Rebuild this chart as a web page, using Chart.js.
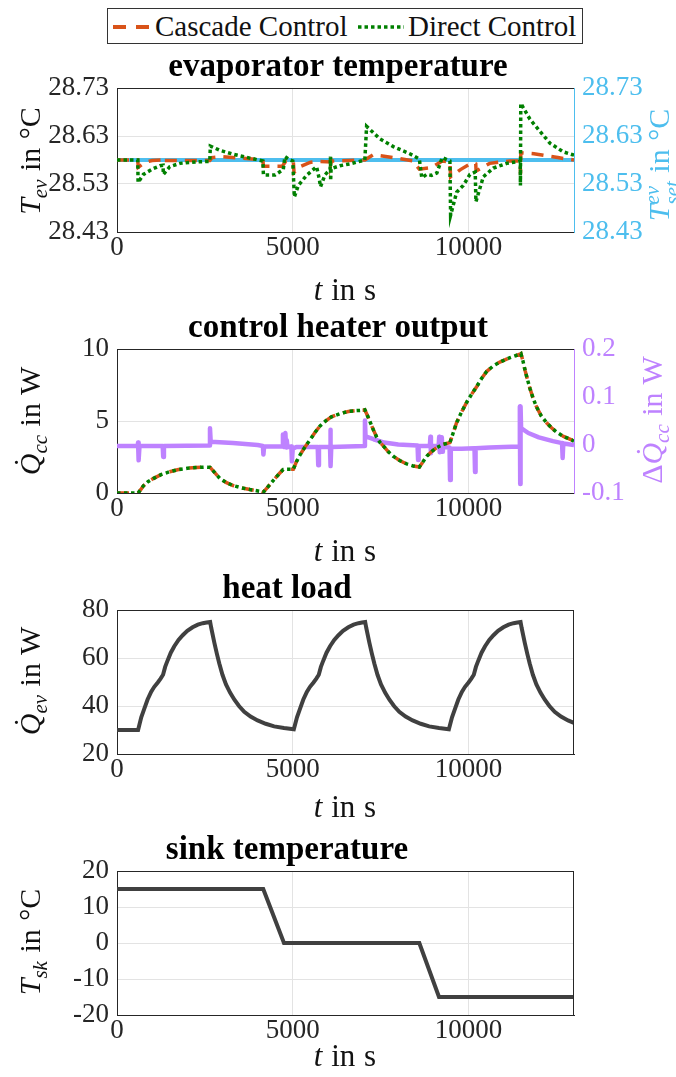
<!DOCTYPE html>
<html>
<head>
<meta charset="utf-8">
<script src="https://cdn.jsdelivr.net/npm/chart.js@4.4.1/dist/chart.umd.min.js"></script>
<style>
  body { margin: 0; width: 676px; height: 1077px; overflow: hidden; background: #fff; position: relative;
         font-family: "Liberation Serif", serif; color: #111; }
  canvas { position: absolute; left: 0; }
  .ylab { position: absolute; white-space: nowrap; font-size: 30px; line-height: 1; word-spacing: 1px;
          transform: translate(-50%, -50%) rotate(-90deg); }
  .xlab { position: absolute; white-space: nowrap; font-size: 31px; line-height: 1; word-spacing: 1px;
          transform: translate(-50%, -50%); }
  .ylab sub { font-size: 70%; vertical-align: -0.3em; font-style: italic; }
  .ss { display: inline-block; font-size: 70%; line-height: 0.95; vertical-align: -0.5em; font-style: italic; word-spacing: 0; }
  .ss span { display: block; }
  #legend { position: absolute; left: 107px; top: 8px; width: 474px; height: 34px; border: 1px solid #333; background: #fff; }
  #legend span { position: absolute; top: 3px; font-size: 29px; line-height: 1; white-space: nowrap; }
  #legend svg { position: absolute; top: 0; left: 0; }
</style>
</head>
<body>
<div id="legend">
  <svg width="474" height="34">
    <line x1="5" y1="18" x2="43" y2="18" stroke="rgb(217,83,25)" stroke-width="4" stroke-dasharray="13 10"/>
    <line x1="250" y1="18" x2="296" y2="18" stroke="rgb(0,128,0)" stroke-width="3.5" stroke-dasharray="3.5 3"/>
  </svg>
  <span style="left:47px">Cascade Control</span>
  <span style="left:300px">Direct Control</span>
</div>

<canvas id="c1" width="676" height="254" style="top:40px"></canvas>
<canvas id="c2" width="676" height="254" style="top:301px"></canvas>
<canvas id="c3" width="676" height="254" style="top:562px"></canvas>
<canvas id="c4" width="676" height="254" style="top:823px"></canvas>

<div class="ylab" style="left:33px;top:161px"><i>T</i><sub>ev</sub> in °C</div>
<div class="ylab" style="left:663px;top:165px;color:rgb(77,190,238)"><i>T</i><span class="ss"><span>ev</span><span>set</span></span> in °C</div>
<div class="xlab" style="left:345px;top:289px"><i>t</i> in s</div>

<div class="ylab" style="left:33px;top:421px"><i>Q&#x307;</i><sub>cc</sub> in W</div>
<div class="ylab" style="left:655px;top:420px;color:rgb(190,130,255)">Δ<i>Q&#x307;</i><sub>cc</sub> in W</div>
<div class="xlab" style="left:345px;top:550px"><i>t</i> in s</div>

<div class="ylab" style="left:33px;top:681px"><i>Q&#x307;</i><sub>ev</sub> in W</div>
<div class="xlab" style="left:345px;top:806px"><i>t</i> in s</div>

<div class="ylab" style="left:33px;top:942px"><i>T</i><sub>sk</sub> in °C</div>
<div class="xlab" style="left:345px;top:1055px"><i>t</i> in s</div>

<script>
// axis ticks
const timeTicks = [0, 5000, 10000];
const evapTicks = [28.43, 28.53, 28.63, 28.73];
const heaterTicks = [0, 5, 10];
const deltaTicks = [-0.1, 0, 0.1, 0.2];
const loadTicks = [20, 40, 60, 80];
const sinkTicks = [-20, -10, 0, 10, 20];

// evaporator temperature [t in s, T in °C]
const setpointT = [[0, 28.58], [13000, 28.58]];
const cascadeT = [
  [0, 28.58], [590, 28.58], [605, 28.565], [800, 28.575], [1000, 28.579], [1310, 28.58], [1318, 28.584],
  [1330, 28.579], [2640, 28.579], [2700, 28.585], [3000, 28.587], [3500, 28.584], [4150, 28.58],
  [4165, 28.567], [4700, 28.567], [4780, 28.575], [4800, 28.578], [5015, 28.578], [5035, 28.554],
  [5200, 28.566], [5490, 28.575], [5720, 28.577], [6070, 28.576], [6075, 28.591], [6080, 28.572],
  [6100, 28.578], [7050, 28.58], [7290, 28.591], [7860, 28.585], [8430, 28.578], [8523, 28.568],
  [8600, 28.561], [8950, 28.564], [9250, 28.578], [9470, 28.576], [9490, 28.545], [9770, 28.56],
  [10120, 28.575], [10205, 28.572], [10215, 28.557], [10600, 28.573], [11170, 28.578], [11470, 28.578],
  [11478, 28.55], [11486, 28.595], [11860, 28.593], [12540, 28.585], [13000, 28.58]
];
const directT = [
  [0, 28.58], [590, 28.58], [600, 28.533], [750, 28.55], [1030, 28.562], [1220, 28.568], [1310, 28.569],
  [1318, 28.55], [1500, 28.566], [1790, 28.573], [2270, 28.576], [2640, 28.577], [2655, 28.609],
  [2930, 28.60], [3310, 28.592], [3780, 28.584], [4150, 28.578], [4165, 28.549], [4500, 28.549],
  [4730, 28.56], [4777, 28.587], [4920, 28.58], [5000, 28.578], [5045, 28.503], [5157, 28.527],
  [5393, 28.548], [5678, 28.566], [5750, 28.542], [5790, 28.524], [5915, 28.549], [6061, 28.56],
  [6073, 28.587], [6077, 28.537], [6090, 28.562], [6342, 28.568], [6626, 28.572], [7050, 28.58],
  [7100, 28.65], [7480, 28.624], [7860, 28.608], [8330, 28.593], [8600, 28.582], [8670, 28.543],
  [8810, 28.55], [8950, 28.548], [9100, 28.553], [9250, 28.585], [9410, 28.58], [9470, 28.578],
  [9490, 28.465], [9662, 28.513], [9851, 28.527], [10040, 28.55], [10190, 28.555], [10210, 28.493],
  [10420, 28.545], [10704, 28.563], [11083, 28.573], [11415, 28.577], [11470, 28.578], [11476, 28.527],
  [11486, 28.698], [11747, 28.665], [12031, 28.64], [12316, 28.615], [12695, 28.597], [13000, 28.59]
];

// control heater output [t in s, W]; both controllers give the same curve here
const cascadeQ = [
  [0, 0], [600, 0], [680, 0.25], [750, 0.5], [880, 0.78], [1030, 1.0], [1250, 1.27], [1500, 1.48],
  [1750, 1.63], [2000, 1.72], [2250, 1.77], [2500, 1.8], [2650, 1.78], [2780, 1.42], [2930, 1.0],
  [3100, 0.74], [3300, 0.52], [3540, 0.36], [3780, 0.24], [4110, 0.1], [4160, 0.05], [4300, 0.45],
  [4450, 0.88], [4600, 1.3], [4730, 1.64], [5015, 1.65], [5100, 2.15], [5200, 2.62], [5340, 3.17],
  [5490, 3.69], [5630, 4.2], [5770, 4.64], [5930, 5.0], [6100, 5.29], [6330, 5.5], [6580, 5.66],
  [6800, 5.72], [7000, 5.75], [7050, 5.78], [7120, 5.4], [7200, 4.93], [7290, 4.4], [7390, 3.86],
  [7480, 3.52], [7580, 3.26], [7720, 2.86], [7860, 2.55], [8040, 2.26], [8240, 2.02], [8420, 1.88],
  [8600, 1.8], [8700, 2.15], [8810, 2.55], [8950, 2.88], [9090, 3.14], [9280, 3.38], [9470, 3.5],
  [9560, 4.15], [9660, 4.88], [9800, 5.62], [9950, 6.31], [10090, 6.87], [10230, 7.38], [10370, 7.95],
  [10520, 8.45], [10700, 8.82], [10890, 9.09], [11180, 9.4], [11460, 9.64], [11490, 9.68], [11550, 9.15],
  [11610, 8.5], [11680, 7.85], [11750, 7.24], [11840, 6.55], [11940, 5.95], [12070, 5.35], [12220, 4.88],
  [12360, 4.53], [12500, 4.24], [12700, 3.93], [12930, 3.69], [13000, 3.6]
];
const directQ = cascadeQ;
const deltaQ = [
  [0, -0.002], [590, -0.002], [600, 0.005], [615, -0.032], [640, -0.002], [1300, -0.002], [1315, -0.025],
  [1335, -0.002], [2630, -0.001], [2645, 0.035], [2665, 0.007], [3300, 0.004], [4000, 0.0],
  [4150, -0.002], [4165, -0.02], [4185, -0.003], [4700, -0.003], [4720, 0.022], [4740, -0.004],
  [4790, 0.025], [4810, -0.005], [4830, 0.01], [4850, -0.004], [4960, -0.003], [4975, -0.034],
  [5000, -0.008], [5100, -0.004], [5710, -0.004], [5725, -0.042], [5745, -0.004], [6060, -0.004],
  [6070, 0.032], [6080, -0.044], [6095, -0.004], [7040, -0.002], [7053, 0.051], [7070, 0.018],
  [7300, 0.012], [7600, 0.005], [8000, 0.001], [8550, -0.001], [8565, -0.031], [8580, -0.002],
  [8900, -0.002], [8915, 0.017], [8930, -0.017], [8945, -0.002], [9150, -0.002], [9165, 0.017],
  [9180, -0.015], [9200, -0.003], [9240, 0.016], [9255, -0.014], [9270, -0.004], [9460, -0.005],
  [9475, -0.073], [9495, -0.008], [9800, -0.008], [10170, -0.007], [10185, -0.056], [10200, -0.007],
  [10600, -0.005], [11000, -0.004], [11450, -0.003], [11460, 0.08], [11470, -0.081], [11480, 0.08],
  [11495, 0.035], [11700, 0.025], [12000, 0.016], [12400, 0.008], [12660, 0.004], [12677, -0.027],
  [12695, 0.003], [13000, 0.0]
];

// heat load [t in s, W]
const heatLoad = [
  [0, 30], [600, 30], [690, 35.3], [780, 39], [870, 42.7], [970, 45.9], [1060, 48], [1160, 49.8],
  [1240, 51.4], [1310, 53], [1370, 56.3], [1440, 59], [1530, 62.2], [1630, 64.9], [1750, 67.5],
  [1870, 69.5], [2000, 71.3], [2150, 72.8], [2300, 73.9], [2440, 74.5], [2550, 74.8], [2650, 75],
  [2680, 72.6], [2770, 66.3], [2840, 61.8], [2910, 57.7], [3000, 53], [3100, 49], [3220, 45.5],
  [3340, 42.6], [3470, 40], [3620, 37.6], [3800, 35.6], [4000, 34], [4230, 32.6], [4470, 31.5],
  [4750, 30.8], [5030, 30.3],
  [5120, 35.3], [5210, 39], [5300, 42.7], [5400, 45.9], [5490, 48], [5590, 49.8], [5670, 51.4],
  [5740, 53], [5800, 56.3], [5870, 59], [5960, 62.2], [6060, 64.9], [6180, 67.5], [6300, 69.5],
  [6430, 71.3], [6580, 72.8], [6730, 73.9], [6870, 74.5], [6970, 74.8], [7060, 75],
  [7090, 72.6], [7180, 66.3], [7250, 61.8], [7320, 57.7], [7410, 53], [7510, 49], [7630, 45.5],
  [7750, 42.6], [7880, 40], [8030, 37.6], [8210, 35.6], [8410, 34], [8640, 32.6], [8880, 31.5],
  [9160, 30.8], [9440, 30.3],
  [9530, 35.3], [9620, 39], [9710, 42.7], [9810, 45.9], [9900, 48], [10000, 49.8], [10080, 51.4],
  [10150, 53], [10210, 56.3], [10280, 59], [10370, 62.2], [10470, 64.9], [10590, 67.5], [10710, 69.5],
  [10840, 71.3], [10990, 72.8], [11140, 73.9], [11280, 74.5], [11390, 74.8], [11480, 75],
  [11510, 72.6], [11600, 66.3], [11670, 61.8], [11740, 57.7], [11830, 53], [11930, 49], [12050, 45.5],
  [12170, 42.6], [12300, 40], [12450, 37.6], [12630, 35.6], [12830, 34], [13000, 32.9]
];

// sink temperature [t in s, °C]
const sinkTemp = [[0, 15], [4160, 15], [4750, 0], [8600, 0], [9160, -15], [13000, -15]];

const ORANGE = 'rgb(217,83,25)';
const GREEN = 'rgb(0,128,0)';
const BLUE = 'rgb(77,190,238)';
const PURPLE = 'rgb(190,130,255)';
const DARK = 'rgb(64,64,64)';
const AXIS = '#262626';
const GRID = '#e3e3e3';
const tickFont = { family: 'Liberation Serif', size: 27 };

const pts = arr => arr.map(([x, y]) => ({ x, y }));

const framePlugin = {
  id: 'frame',
  afterDraw(chart, args, opts) {
    const { ctx, chartArea: a } = chart;
    ctx.save();
    ctx.strokeStyle = AXIS;
    ctx.lineWidth = 1;
    ctx.beginPath();
    ctx.moveTo(a.left, Math.round(a.top) + 0.5);
    ctx.lineTo(a.right, Math.round(a.top) + 0.5);
    if (opts.right) {
      ctx.moveTo(Math.round(a.right) - 0.5, a.top);
      ctx.lineTo(Math.round(a.right) - 0.5, a.bottom);
    }
    ctx.stroke();
    ctx.restore();
  }
};

function yAxis(ticks, min, max, color, position, width, fmt, grid) {
  return {
    type: 'linear', position, min, max,
    afterBuildTicks: s => { s.ticks = ticks.map(v => ({ value: v })); },
    afterFit: s => { s.width = width; },
    ticks: { color, font: tickFont, padding: 8, callback: fmt },
    grid: { drawOnChartArea: grid, color: GRID, tickLength: 0 },
    border: { color, width: 1 }
  };
}

function xAxis() {
  return {
    type: 'linear', min: 0, max: 13000,
    afterBuildTicks: s => { s.ticks = timeTicks.map(v => ({ value: v })); },
    afterFit: s => { s.height = 62; },
    ticks: { color: AXIS, font: tickFont, padding: 0, maxRotation: 0, callback: v => String(v) },
    grid: { color: GRID, tickLength: 0 },
    border: { color: AXIS, width: 1 }
  };
}

function line(data, color, width, dash, axis, join) {
  return {
    data: pts(data), borderColor: color, borderWidth: width, borderDash: dash || [],
    pointRadius: 0, tension: 0, fill: false, yAxisID: axis || 'y', borderCapStyle: 'butt',
    borderJoinStyle: join || 'miter'
  };
}

function panel(id, title, datasets, scales, padRight) {
  new Chart(document.getElementById(id), {
    type: 'line',
    data: { datasets },
    options: {
      responsive: false,
      animation: false,
      layout: { padding: { left: 0, right: padRight, top: 0, bottom: 0 } },
      scales,
      plugins: {
        legend: { display: false },
        tooltip: { enabled: false },
        title: {
          display: true, text: title, color: '#000',
          font: { family: 'Liberation Serif', size: 33, weight: 'bold', lineHeight: 1.2 },
          padding: { top: 8, bottom: 0.4 }
        },
        frame: { right: padRight > 0 }
      }
    },
    plugins: [framePlugin]
  });
}

panel('c1', 'evaporator temperature', [
  line(directT, GREEN, 3.5, [3.5, 3]),
  line(cascadeT, ORANGE, 3.5, [12, 8]),
  line(setpointT, BLUE, 4, null, 'y2')
], {
  x: xAxis(),
  y: yAxis(evapTicks, 28.43, 28.73, AXIS, 'left', 117, v => v.toFixed(2), true),
  y2: yAxis(evapTicks, 28.43, 28.73, BLUE, 'right', 102, v => v.toFixed(2), false)
}, 0);

panel('c2', 'control heater output', [
  line(directQ, GREEN, 3.5, [3.5, 3.5]),
  line(cascadeQ, ORANGE, 3.5, [12, 8]),
  line(deltaQ, PURPLE, 4.5, null, 'y2', 'round')
], {
  x: xAxis(),
  y: yAxis(heaterTicks, 0, 10, AXIS, 'left', 117, v => String(v), true),
  y2: yAxis(deltaTicks, -0.1, 0.2, PURPLE, 'right', 102, v => (v === 0 ? '0' : v.toFixed(1)), false)
}, 0);

panel('c3', 'heat load', [line(heatLoad, DARK, 4)], {
  x: xAxis(),
  y: yAxis(loadTicks, 20, 80, AXIS, 'left', 117, v => String(v), true)
}, 102);

panel('c4', 'sink temperature', [line(sinkTemp, DARK, 4)], {
  x: xAxis(),
  y: yAxis(sinkTicks, -20, 20, AXIS, 'left', 117, v => String(v), true)
}, 102);
</script>
</body>
</html>
